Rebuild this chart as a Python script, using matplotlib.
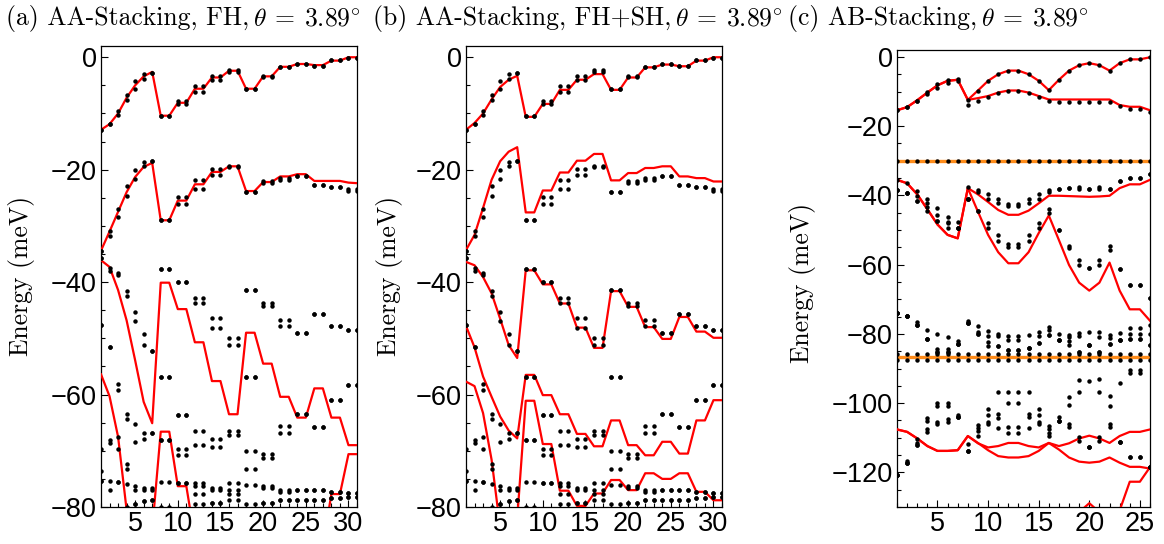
import numpy as np
import matplotlib
matplotlib.use("Agg")
import matplotlib.pyplot as plt
from matplotlib.ticker import MultipleLocator

plt.rcParams['mathtext.fontset'] = 'cm'
plt.rcParams['axes.unicode_minus'] = True

# k-path index for the AA panels (a, b) and the AB panel (c)
k_aa = np.arange(1, 32)
k_ab = np.arange(1, 27)

# ---------------- AA stacking: exact spectrum (same in a and b) ----------------
aa_top1 = [-12.9, -11.9, -9.5, -6.7, -4.3, -3.0, -2.8, -10.4, -10.4, -7.8, -7.8, -5.1, -5.1, -3.3, -3.3,
           -2.3, -2.3, -5.6, -5.6, -3.3, -3.3, -1.7, -1.7, -1.2, -1.2, -1.5, -1.5, -0.5, -0.5, -0.05, -0.05]
aa_top2 = [-12.9, -11.9, -10.3, -7.6, -5.7, -3.9, -2.8, -10.4, -10.4, -8.4, -8.4, -6.1, -6.1, -4.0, -4.0,
           -2.6, -2.6, -5.6, -5.6, -3.6, -3.6, -1.7, -1.7, -1.2, -1.2, -1.5, -1.5, -0.5, -0.5, -0.05, -0.05]
aa_mid1 = [-34.4, -30.9, -27.0, -22.9, -20.1, -18.7, -18.4, -29.0, -29.0, -24.9, -24.9, -21.9, -21.9, -19.9, -19.9,
           -19.3, -19.3, -23.9, -23.9, -22.1, -22.1, -21.5, -21.5, -21.2, -21.2, -22.8, -22.8, -23.0, -23.0, -23.4, -23.4]
aa_mid2 = [-34.4, -31.8, -28.4, -24.7, -21.6, -19.4, -18.4, -29.0, -29.0, -26.1, -26.1, -23.4, -23.4, -21.0, -21.0,
           -19.5, -19.5, -23.9, -23.9, -22.4, -22.4, -21.8, -21.8, -21.2, -21.2, -22.8, -22.8, -23.0, -23.0, -23.8, -23.8]
aa_low1 = [-35.7, -37.4, -38.3, -41.5, -45.3, -49.2, -52.2, -37.6, -37.6, -40.0, -40.0, -42.8, -42.8, -46.4, -46.4,
           -50.0, -50.0, -41.4, -41.4, -43.8, -43.8, -46.7, -46.7, -49.1, -49.1, -45.6, -45.6, -47.8, -47.8, -48.5, -48.5]
aa_low2 = [-35.7, -38.1, -38.8, -42.4, -46.9, -51.2, -52.2, -37.6, -37.6, -40.0, -40.0, -43.7, -43.7, -48.1, -48.1,
           -51.1, -51.1, -41.4, -41.4, -44.3, -44.3, -47.8, -47.8, -49.1, -49.1, -45.6, -45.6, -47.8, -47.8, -48.5, -48.5]
aa_low3 = [-47.6, -51.5, -58.2, -63.5, -65.3, -66.9, -66.9, -56.8, -56.8, -63.6, -63.6, -66.4, -66.4, -67.9, -67.9,
           -66.4, -66.4, -56.8, -56.8, -70.6, -70.6, -65.6, -65.6, -63.5, -63.5, -65.8, -65.8, -60.9, -60.9, -58.3, -58.3]
aa_low4 = [-47.6, -51.5, -59.1, -64.4, -68.4, -67.9, -66.9, -56.8, -56.8, -63.6, -63.6, -68.9, -68.9, -69.4, -69.4,
           -67.2, -67.2, -56.8, -56.8, -71.2, -71.2, -66.8, -66.8, -63.5, -63.5, -65.8, -65.8, -60.9, -60.9, -58.3, -58.3]
aa_low5 = [-69.6, -68.1, -67.6, -72.4, -76.3, -76.7, -76.6, -68.1, -68.1, -69.7, -69.7, -75.8, -75.8, -76.6, -76.6,
           -75.8, -75.8, -70.0, -70.0, -76.3, -76.3, -76.9, -76.9, -77.0, -77.0, -76.9, -76.9, -77.3, -77.3, -77.5, -77.5]
aa_low6 = [-73.6, -68.6, -69.7, -73.3, -76.9, -77.0, -77.0, -68.1, -68.1, -70.7, -70.7, -76.3, -76.3, -77.0, -77.0,
           -76.9, -76.9, -73.3, -73.3, -76.7, -76.7, -77.4, -77.4, -77.0, -77.0, -76.9, -76.9, -77.3, -77.3, -77.5, -77.5]
aa_low7 = [-75.3, -75.3, -75.5, -75.9, -79.4, -78.9, -78.8, -75.5, -75.5, -75.8, -75.8, -77.7, -77.7, -79.2, -79.2,
           -77.6, -77.6, -76.1, -76.1, -79.2, -79.2, -78.8, -78.8, -78.7, -78.7, -78.7, -78.7, -78.4, -78.4, -78.3, -78.3]
aa_low8 = [-75.3, -76.9, -75.5, -80.0, -79.4, -78.9, -78.8, -80.0, -80.0, -75.8, -75.8, -79.5, -79.5, -79.2, -79.2,
           -78.8, -78.8, -79.4, -79.4, -79.2, -79.2, -78.8, -78.8, -78.7, -78.7, -78.7, -78.7, -78.4, -78.4, -78.3, -78.3]

# ---------------- AA stacking, FH model bands ----------------
a_red1 = [-12.9, -11.9, -10.0, -7.2, -5.0, -3.4, -2.6, -10.4, -10.4, -8.1, -8.1, -5.6, -5.6, -3.6, -3.6,
          -2.4, -2.4, -5.6, -5.6, -3.4, -3.4, -1.7, -1.7, -1.2, -1.2, -1.4, -1.4, -0.6, -0.6, 0.0, 0.0]
a_red2 = [-34.4, -31.0, -27.5, -24.0, -21.3, -19.5, -18.8, -29.0, -29.0, -25.5, -25.5, -22.6, -22.6, -20.4, -20.4,
          -19.4, -19.4, -23.8, -23.8, -22.2, -22.2, -21.2, -21.2, -20.8, -20.8, -22.0, -22.0, -22.0, -22.0, -22.3, -22.4]
a_red3 = [-36.1, -37.3, -41.4, -46.8, -53.9, -61.3, -65.1, -40.1, -40.1, -44.8, -44.8, -50.7, -50.7, -57.6, -57.6,
          -63.5, -63.5, -49.0, -49.0, -54.5, -54.5, -60.4, -60.4, -64.1, -64.1, -58.9, -58.9, -64.1, -64.1, -69.0, -69.0]
a_red4 = [-56.4, -60.3, -67.5, -80.5, -88.0, -90.0, -84.0, -66.6, -66.6, -76.3, -76.3, -85.6, -85.6, -88.0, -88.0,
          -90.0, -90.0, -88.0, -88.0, -90.0, -90.0, -92.0, -92.0, -94.0, -94.0, -90.0, -86.9, -77.7, -77.7, -70.6, -70.6]

# ---------------- AA stacking, FH+SH model bands ----------------
b_red1 = [-12.9, -11.7, -10.0, -7.5, -5.3, -4.0, -3.3, -10.6, -10.6, -8.3, -8.3, -5.8, -5.8, -4.0, -4.0,
          -3.0, -3.0, -5.8, -5.8, -3.6, -3.6, -1.8, -1.8, -1.3, -1.3, -1.6, -1.6, -0.6, -0.6, 0.0, 0.0]
b_red2 = [-34.3, -31.6, -26.8, -21.8, -18.5, -16.8, -16.0, -27.6, -27.6, -23.7, -23.7, -20.5, -20.5, -18.4, -18.4,
          -17.2, -17.2, -21.9, -21.9, -20.6, -20.6, -19.7, -19.7, -19.4, -19.4, -21.2, -21.2, -21.5, -21.5, -22.1, -22.1]
b_red3 = [-36.4, -37.0, -39.1, -42.0, -46.5, -51.2, -53.5, -37.9, -37.9, -40.4, -40.4, -43.8, -43.8, -48.1, -48.1,
          -51.7, -51.7, -41.6, -41.6, -44.4, -44.4, -48.0, -48.0, -50.1, -50.1, -46.2, -46.2, -48.8, -48.8, -49.9, -49.9]
b_red4 = [-47.8, -51.6, -56.8, -60.4, -63.9, -66.4, -67.8, -56.5, -56.5, -60.1, -60.1, -63.5, -63.5, -67.0, -67.0,
          -69.2, -69.2, -64.6, -64.6, -69.0, -69.0, -70.8, -70.8, -68.4, -68.4, -70.5, -70.5, -64.6, -64.6, -61.0, -61.0]
b_red5 = [-57.7, -58.5, -63.3, -71.6, -83.6, -90.0, -82.1, -61.1, -61.1, -68.8, -68.8, -77.1, -77.1, -79.8, -79.8,
          -77.6, -77.6, -75.2, -75.2, -77.0, -77.0, -74.0, -74.0, -75.0, -75.0, -74.0, -74.0, -77.3, -77.3, -78.8, -78.8]

# ---------------- AB stacking: exact spectrum ----------------
c_top1 = [-15.4, -14.5, -12.7, -10.0, -7.9, -6.6, -6.4, -12.4, -9.7, -6.9, -5.0, -3.95, -3.95,
          -5.0, -6.9, -9.6, -6.6, -3.95, -2.4, -1.8, -2.4, -3.95, -1.8, -0.7, -0.7, -0.1]
c_top2 = [-15.4, -14.5, -12.7, -10.8, -8.9, -7.6, -6.9, -14.0, -12.8, -11.5, -10.5, -9.8, -9.8,
          -10.5, -11.5, -12.8, -12.9, -12.9, -12.9, -12.9, -12.9, -12.9, -14.2, -15.1, -15.1, -15.8]
c_flat_hi = -30.0
c_mid1 = [-35.5, -36.5, -38.7, -41.1, -43.7, -46.1, -47.6, -37.7, -38.4, -39.7, -41.0, -42.6, -42.6,
          -41.0, -39.7, -38.4, -38.2, -37.9, -37.7, -38.2, -37.7, -38.2, -35.9, -34.9, -34.9, -33.9]
c_mid2 = [-38.4, -39.4, -40.2, -42.1, -45.7, -47.6, -49.3, -41.0, -39.1, -41.0, -42.3, -43.0, -43.0,
          -42.3, -41.0, -39.1, -38.2, -37.9, -38.2, -38.2, -38.2, -38.2, -35.9, -34.9, -34.9, -33.9]
c_mid3 = [-38.4, -39.4, -41.6, -43.3, -47.4, -48.1, -49.3, -41.0, -44.5, -48.1, -51.4, -54.0, -54.0,
          -51.4, -48.1, -44.0, -49.9, -54.6, -58.7, -60.9, -58.7, -54.5, -61.3, -65.9, -65.9, -69.5]
c_mid4 = [-38.4, -39.4, -41.6, -44.5, -47.4, -49.3, -49.3, -41.0, -44.5, -49.3, -53.2, -54.9, -54.9,
          -53.2, -49.3, -45.0, -49.9, -55.3, -60.0, -60.9, -60.0, -55.8, -61.3, -65.9, -65.9, -69.5]
c_up1 = [-74.1, -74.8, -76.7, -78.9, -80.1, -80.8, -82.1, -76.2, -77.7, -79.1, -79.9, -80.6, -80.6,
         -80.3, -79.4, -77.9, -79.9, -80.3, -79.7, -79.4, -79.4, -80.3, -79.7, -78.4, -78.4, -77.5]
c_up2 = [-74.1, -74.8, -77.5, -81.6, -84.5, -84.5, -82.9, -76.8, -79.4, -80.6, -80.6, -81.9, -81.9,
         -84.1, -80.6, -78.9, -81.9, -81.0, -80.6, -83.2, -80.8, -81.3, -81.9, -79.9, -79.9, -80.1]
c_up3 = [-74.1, -74.8, -77.5, -81.6, -85.2, -85.2, -82.9, -76.8, -80.1, -82.3, -83.5, -84.6, -84.6,
         -84.1, -82.6, -80.3, -81.9, -82.1, -85.2, -83.2, -85.2, -82.9, -81.9, -81.6, -81.6, -83.2]
c_up4 = [-74.1, -74.8, -77.5, -81.6, -85.2, -85.2, -82.9, -76.8, -80.1, -83.5, -83.5, -84.6, -84.6,
         -84.1, -82.6, -80.3, -81.9, -83.2, -85.2, -83.2, -85.2, -82.9, -81.9, -81.6, -81.6, -83.2]
c_flat_lo = -86.8
c_flat_lo_dots = (-85.9, -87.4)
c_lo1 = [-120.8, -116.7, -110.5, -104.4, -100.0, -100.0, -103.5, -111.9, -106.3, -101.8, -96.9, -96.9, -96.9,
         -96.9, -101.8, -106.6, -104.1, -98.2, -93.2, -93.6, -92.9, -97.9, -94.3, -90.3, -90.3, -118.4]
c_lo2 = [-120.8, -117.3, -111.5, -105.1, -100.9, -100.9, -104.1, -113.8, -107.3, -103.5, -103.1, -99.9, -99.9,
         -103.1, -103.3, -107.6, -105.1, -100.6, -96.9, -112.6, -96.9, -100.8, -111.2, -91.2, -91.2, -118.4]
c_lo3 = [-120.8, -117.3, -112.2, -107.6, -105.4, -104.7, -104.1, -113.8, -108.0, -105.4, -104.3, -107.0, -107.0,
         -104.0, -105.4, -108.6, -105.1, -106.1, -109.7, -112.6, -109.7, -106.1, -111.2, -115.7, -115.7, -118.4]
c_lo4 = [-120.8, -117.3, -112.2, -108.3, -106.1, -105.4, -104.1, -113.8, -109.5, -106.1, -107.3, -108.6, -108.6,
         -107.3, -106.1, -109.5, -105.1, -107.0, -111.0, -112.6, -111.0, -107.0, -111.2, -115.7, -115.7, -118.4]

# ---------------- AB stacking model bands ----------------
c_red1 = [-15.4, -14.5, -12.5, -10.3, -8.2, -6.9, -6.6, -12.4, -9.7, -6.9, -5.0, -3.95, -3.95,
          -5.0, -6.9, -9.6, -6.6, -3.95, -2.4, -1.8, -2.4, -3.95, -1.8, -0.7, -0.7, -0.1]
c_red2 = [-15.4, -14.5, -12.5, -10.3, -8.2, -6.9, -6.6, -12.4, -11.9, -11.3, -10.3, -9.7, -9.7,
          -10.3, -11.3, -12.3, -12.3, -12.3, -12.3, -12.3, -12.3, -12.3, -13.9, -14.4, -14.4, -15.4]
c_red3 = [-35.5, -36.5, -39.7, -44.0, -48.4, -51.4, -52.4, -37.9, -39.7, -41.9, -44.2, -45.6, -45.6,
          -44.4, -42.3, -40.1, -40.1, -40.2, -40.3, -40.4, -40.3, -40.1, -37.9, -36.8, -36.8, -35.5]
c_red4 = [-35.5, -36.5, -39.7, -44.0, -48.4, -51.4, -52.4, -37.9, -44.7, -51.4, -56.4, -59.6, -59.6,
          -56.4, -50.9, -45.8, -52.9, -60.1, -65.2, -67.5, -65.2, -59.4, -67.5, -72.9, -72.9, -76.2]
c_red5 = [-107.6, -108.3, -110.2, -112.4, -113.8, -113.8, -113.6, -109.5, -111.6, -112.8, -112.4, -111.5, -111.5,
          -112.4, -112.8, -111.5, -112.4, -111.6, -110.2, -109.4, -110.2, -111.5, -109.5, -108.3, -108.3, -107.6]
c_red6 = [-107.6, -108.3, -110.2, -112.4, -113.8, -113.8, -113.6, -109.5, -111.5, -113.6, -115.3, -115.7, -115.7,
          -115.3, -113.8, -111.5, -113.4, -115.7, -116.9, -117.2, -116.9, -115.7, -117.2, -118.4, -118.4, -118.9]
c_red7 = [np.nan] * 18 + [-131.5, -128.9, -131.5, -134.0, -131.0, -122.7, -122.7, -118.5]

# panel headings: plain part (serif) + angle part (math)
heads = ["(a) AA-Stacking, FH,", "(b) AA-Stacking, FH+SH,", "(c) AB-Stacking,"]
angle = r"$\theta\:=\:3.89^{\circ}$"

RED = '#ff0000'
ORANGE = '#ff8c1a'
TICKFONT = 'Liberation Sans'
SERIF = 'cmr10'

fig = plt.figure(figsize=(11.64, 5.44), dpi=100)
W, H = 1164, 544
ax_a = fig.add_axes([101 / W, 1 - 507 / H, 256 / W, 461 / H])
ax_b = fig.add_axes([466 / W, 1 - 507 / H, 256 / W, 461 / H])
ax_c = fig.add_axes([897 / W, 1 - 507 / H, 253 / W, 457 / H])


def dots(ax, k, bands):
    for band in bands:
        ax.plot(k, band, 'o', ms=3.2, color='k', mec='none', zorder=4)


def lines(ax, k, bands):
    for band in bands:
        ax.plot(k, band, '-', color=RED, lw=1.6, zorder=3)


def style(ax, xmax, ymin, yticks):
    ax.set_xlim(1, xmax)
    ax.set_ylim(ymin, 2)
    ax.xaxis.set_major_locator(MultipleLocator(5))
    ax.xaxis.set_minor_locator(MultipleLocator(1))
    ax.set_yticks(yticks)
    ax.yaxis.set_minor_locator(MultipleLocator(5))
    ax.tick_params(which='both', direction='in', top=False, right=False,
                   labelsize=19.5, pad=3, width=0.8)
    ax.tick_params(which='major', length=5)
    ax.tick_params(which='minor', length=3)
    for lab in ax.get_xticklabels() + ax.get_yticklabels():
        lab.set_family(TICKFONT)
    for sp in ax.spines.values():
        sp.set_linewidth(0.9)


aa_exact = [aa_top1, aa_top2, aa_mid1, aa_mid2, aa_low1, aa_low2, aa_low3,
            aa_low4, aa_low5, aa_low6, aa_low7, aa_low8]

lines(ax_a, k_aa, [a_red1, a_red2, a_red3, a_red4])
dots(ax_a, k_aa, aa_exact)
style(ax_a, 31, -80, [0, -20, -40, -60, -80])

lines(ax_b, k_aa, [b_red1, b_red2, b_red3, b_red4, b_red5])
dots(ax_b, k_aa, aa_exact)
style(ax_b, 31, -80, [0, -20, -40, -60, -80])

# flat bands in the AB spectrum
ax_c.axhline(c_flat_hi, color=ORANGE, lw=2.4, zorder=2)
ax_c.axhline(c_flat_lo, color=ORANGE, lw=2.4, zorder=2)
lines(ax_c, k_ab, [c_red1, c_red2, c_red3, c_red4, c_red5, c_red6, c_red7])
dots(ax_c, k_ab, [c_top1, c_top2, c_mid1, c_mid2, c_mid3, c_mid4,
                  c_up1, c_up2, c_up3, c_up4, c_lo1, c_lo2, c_lo3, c_lo4])
dots(ax_c, k_ab, [np.full(len(k_ab), c_flat_hi)] + [np.full(len(k_ab), v) for v in c_flat_lo_dots])
style(ax_c, 26, -130, [0, -20, -40, -60, -80, -100, -120])

# panel titles and axis labels
renderer = fig.canvas.get_renderer()
y_base = 1 - 25 / H
for x0, head in zip([6, 373, 788], heads):
    t = fig.text(x0 / W, y_base, head, ha='left', va='baseline', fontsize=18.5, family=SERIF)
    bb = t.get_window_extent(renderer)
    fig.text((bb.x1 + 4) / W, y_base, angle, ha='left', va='baseline', fontsize=18.5)
for x0, yc in zip([22, 390, 803], [276, 276, 283]):
    fig.text(x0 / W, 1 - yc / H, "Energy (meV)", rotation=90, ha='center', va='center',
             fontsize=18.5, family=SERIF)

fig.savefig("out.png", dpi=100)
